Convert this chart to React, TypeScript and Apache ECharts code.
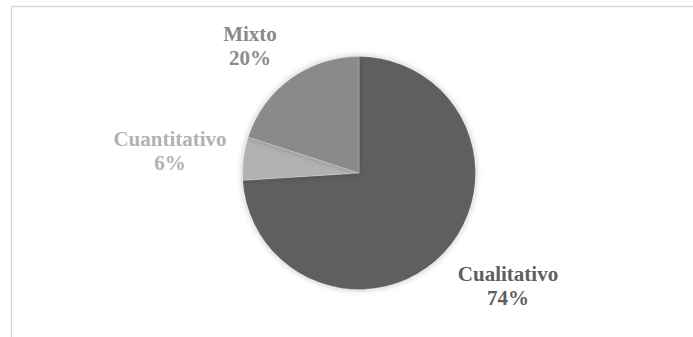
import React, { useEffect, useRef } from "react";
import * as echarts from "echarts";

const categories = ["Cualitativo", "Cuantitativo", "Mixto"];
const values = [74, 6, 20];
const sliceColors = ["#5f5f5f", "#b2b2b2", "#8a8a8a"];
const labelPositions: [number, number][] = [
  [508, 286],
  [170, 151],
  [250, 46],
];

export default function App() {
  const ref = useRef<HTMLDivElement>(null);
  useEffect(() => {
    if (!ref.current) return;
    const chart = echarts.init(ref.current, null, { renderer: "svg" });
    chart.setOption({
      animation: false,
      backgroundColor: "#ffffff",
      graphic: [
        {
          type: "rect",
          shape: { x: 11.5, y: 6.5, width: 800, height: 400 },
          style: { fill: "none", stroke: "#d9d9d9", lineWidth: 1.3 },
          silent: true,
        },
      ],
      series: [
        {
          type: "pie",
          center: [359, 173],
          radius: 116.5,
          startAngle: 90,
          clockwise: true,
          data: categories.map((name, i) => ({
            name,
            value: values[i],
            itemStyle: { color: sliceColors[i] },
            label: { color: sliceColors[i] },
          })),
          itemStyle: {
            borderColor: "rgba(255,255,255,0.35)",
            borderWidth: 0.6,
            shadowBlur: 6,
            shadowColor: "rgba(0,0,0,0.25)",
          },
          label: {
            show: true,
            position: "outside",
            formatter: (p: any) => `${p.name}\n${p.value}%`,
            fontFamily: "Liberation Serif",
            fontWeight: "bold",
            fontSize: 21,
            lineHeight: 24,
            align: "center",
          },
          labelLine: { show: false },
          labelLayout: (params: any) => {
            const pos = labelPositions[params.dataIndex];
            return {
              x: pos[0],
              y: pos[1],
              align: "center",
              verticalAlign: "middle",
            };
          },
          emphasis: { disabled: true },
        },
      ],
    });
    return () => chart.dispose();
  }, []);
  return (
    <div
      ref={ref}
      style={{ position: "absolute", left: 0, top: 0, width: 693, height: 337 }}
    />
  );
}
